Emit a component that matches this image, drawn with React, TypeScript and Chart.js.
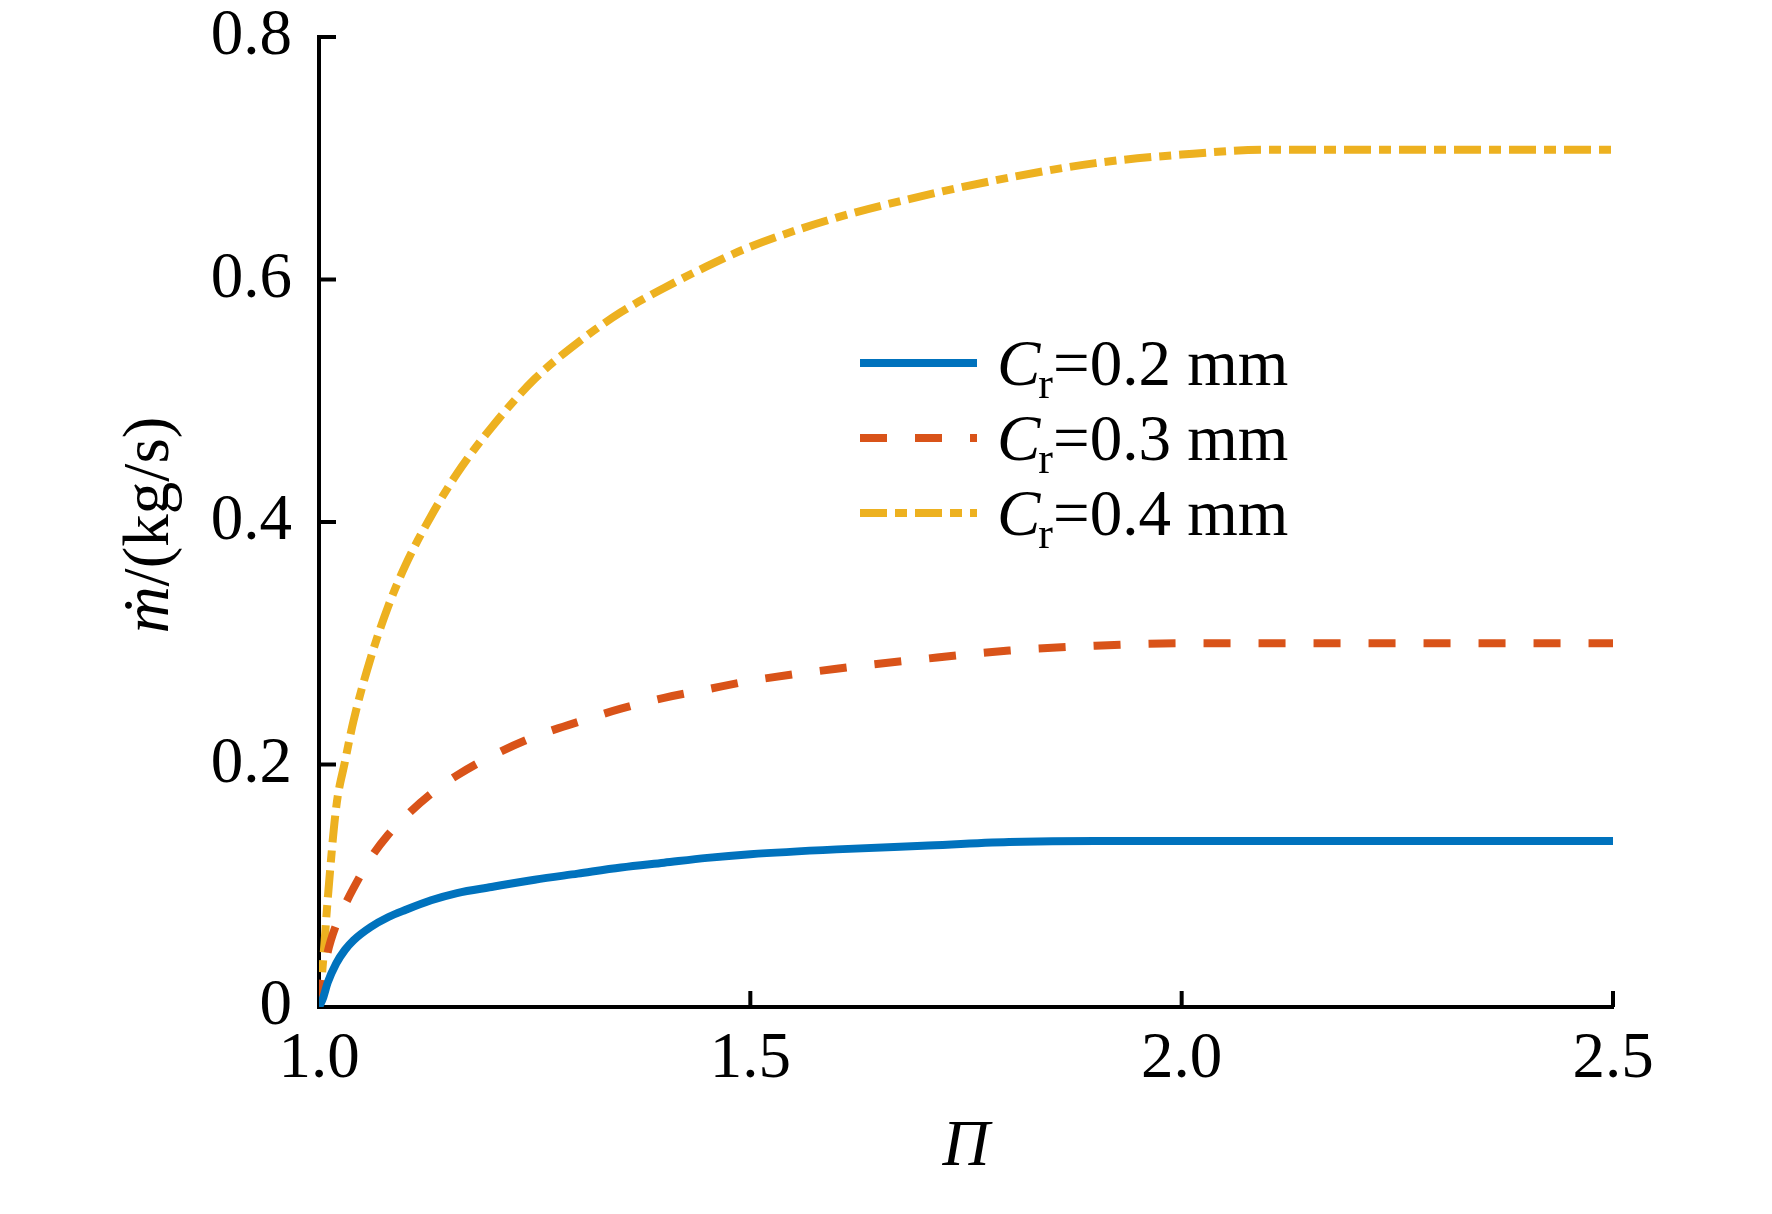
import { useEffect, useRef } from 'react';
import Chart from 'chart.js/auto';

// pressure ratio Π (x) and mass flow ṁ in kg/s for each radial clearance
const piValues = [1.0, 1.005, 1.01, 1.02, 1.03, 1.04, 1.06, 1.08, 1.1, 1.13, 1.16, 1.2, 1.25, 1.3, 1.35, 1.4, 1.45, 1.5, 1.6, 1.7, 1.8, 1.9, 2.0, 2.1, 2.2, 2.3, 2.4, 2.5];
const flowCr02 = [0, 0.008, 0.02, 0.036, 0.047, 0.055, 0.066, 0.074, 0.08, 0.088, 0.094, 0.099, 0.105, 0.11, 0.115, 0.119, 0.123, 0.126, 0.13, 0.133, 0.136, 0.137, 0.137, 0.137, 0.137, 0.137, 0.137, 0.137];
const flowCr03 = [0, 0.025, 0.045, 0.068, 0.084, 0.098, 0.123, 0.142, 0.157, 0.176, 0.191, 0.207, 0.223, 0.235, 0.246, 0.255, 0.262, 0.269, 0.279, 0.287, 0.294, 0.298, 0.3, 0.3, 0.3, 0.3, 0.3, 0.3];
const flowCr04 = [0, 0.04, 0.088, 0.165, 0.202, 0.236, 0.288, 0.33, 0.364, 0.405, 0.44, 0.478, 0.518, 0.548, 0.573, 0.593, 0.611, 0.627, 0.651, 0.669, 0.684, 0.696, 0.703, 0.707, 0.707, 0.707, 0.707, 0.707];

const clearanceLabels = ['=0.2 mm', '=0.3 mm', '=0.4 mm'];
const xTickLabels = ['1.0', '1.5', '2.0', '2.5'];
const yTickLabels = ['0', '0.2', '0.4', '0.6', '0.8'];

const FONT = '"Liberation Serif", "Times New Roman", serif';
const SIZE = 65;

const COLORS = ['#0072BD', '#D95319', '#EDB120'];
const DASHES: number[][] = [[], [27, 28], [27, 8, 12, 8]];
const WIDTHS = [8, 8, 8];

const decorations = {
    id: 'decorations',
    afterDraw(chart: any) {
        const { ctx, chartArea, scales } = chart;
        ctx.save();

        // inward tick marks
        ctx.strokeStyle = '#000';
        ctx.lineWidth = 4;
        ctx.setLineDash([]);
        scales.x.ticks.forEach((t: any) => {
            if (t.value === scales.x.min) return;
            const px = scales.x.getPixelForValue(t.value);
            ctx.beginPath();
            ctx.moveTo(px, chartArea.bottom);
            ctx.lineTo(px, chartArea.bottom - 16);
            ctx.stroke();
        });
        scales.y.ticks.forEach((t: any) => {
            if (t.value === scales.y.min) return;
            const py = scales.y.getPixelForValue(t.value);
            ctx.beginPath();
            ctx.moveTo(chartArea.left, py);
            ctx.lineTo(chartArea.left + 17, py);
            ctx.stroke();
        });

        // y axis title: italic ṁ followed by upright unit
        ctx.fillStyle = '#000';
        ctx.translate(168, (chartArea.top + chartArea.bottom) / 2 + 3);
        ctx.rotate(-Math.PI / 2);
        ctx.textBaseline = 'alphabetic';
        ctx.textAlign = 'left';
        ctx.font = `italic ${SIZE}px ${FONT}`;
        const mW = ctx.measureText('ṁ').width;
        ctx.font = `${SIZE}px ${FONT}`;
        const uW = ctx.measureText('/(kg/s)').width;
        const tx = -(mW + uW) / 2;
        ctx.font = `italic ${SIZE}px ${FONT}`;
        ctx.fillText('ṁ', tx, 0);
        ctx.font = `${SIZE}px ${FONT}`;
        ctx.fillText('/(kg/s)', tx + mW, 0);
        ctx.restore();

        // legend
        ctx.save();
        const rows = [363, 438, 513];
        chart.data.datasets.forEach((ds: any, i: number) => {
            const y = rows[i];
            ctx.strokeStyle = ds.borderColor;
            ctx.lineWidth = 8;
            ctx.lineCap = 'butt';
            ctx.setLineDash(DASHES[i]);
            ctx.beginPath();
            ctx.moveTo(860, y);
            ctx.lineTo(977, y);
            ctx.stroke();

            ctx.fillStyle = '#000';
            ctx.textBaseline = 'alphabetic';
            ctx.textAlign = 'left';
            let x = 997;
            const base = y + 22;
            ctx.font = `italic ${SIZE}px ${FONT}`;
            ctx.fillText('C', x, base);
            x += ctx.measureText('C').width - 2;
            ctx.font = `44px ${FONT}`;
            ctx.fillText('r', x, base + 13);
            x += ctx.measureText('r').width;
            ctx.font = `${SIZE}px ${FONT}`;
            ctx.fillText(clearanceLabels[i], x, base);
        });
        ctx.restore();
    }
};

const App = () => {
    const canvas = useRef<HTMLCanvasElement>(null);

    useEffect(() => {
        Chart.defaults.color = '#000000';
        Chart.defaults.font.family = FONT;
        Chart.defaults.font.size = SIZE;

        const series = [flowCr02, flowCr03, flowCr04];

        const chart = new Chart(
            // @ts-expect-error next
            canvas.current,
            {
                type: 'line',
                data: {
                    datasets: series.map((values, i) => ({
                        label: 'Cr' + clearanceLabels[i],
                        data: piValues.map((x, j) => ({ x, y: values[j] })),
                        borderColor: COLORS[i],
                        backgroundColor: COLORS[i],
                        borderWidth: WIDTHS[i],
                        borderDash: DASHES[i],
                        borderCapStyle: 'butt',
                        pointRadius: 0,
                        cubicInterpolationMode: 'monotone',
                        fill: false
                    }))
                },
                options: {
                    responsive: false,
                    animation: false,
                    devicePixelRatio: 1,
                    layout: {
                        padding: { top: 37, right: 159, left: 0, bottom: 0 }
                    },
                    plugins: {
                        legend: { display: false },
                        tooltip: { enabled: false }
                    },
                    scales: {
                        x: {
                            type: 'linear',
                            min: 1,
                            max: 2.5,
                            grid: { display: false, drawTicks: false },
                            border: { display: true, color: '#000', width: 4 },
                            ticks: {
                                stepSize: 0.5,
                                padding: 14,
                                font: { family: FONT, size: SIZE },
                                callback: (_v: any, index: number) => xTickLabels[index]
                            },
                            title: {
                                display: true,
                                text: 'Π',
                                font: { family: FONT, size: SIZE, style: 'italic' },
                                padding: { top: 0, bottom: 27 }
                            },
                            afterFit: (scale: any) => {
                                scale.height = 207;
                                scale.paddingLeft = 0;
                                scale.paddingRight = 0;
                            }
                        },
                        y: {
                            min: 0,
                            max: 0.8,
                            grid: { display: false, drawTicks: false },
                            border: { display: true, color: '#000', width: 4 },
                            ticks: {
                                stepSize: 0.2,
                                padding: 27,
                                font: { family: FONT, size: SIZE },
                                callback: (_v: any, index: number) => yTickLabels[index]
                            },
                            afterFit: (scale: any) => {
                                scale.width = 319;
                                scale.paddingTop = 0;
                                scale.paddingBottom = 0;
                            }
                        }
                    }
                },
                plugins: [decorations]
            }
        );

        return () => {
            chart.destroy();
        };
    }, []);

    return (
        <div style={{ position: 'absolute', left: 0, top: 0, width: 1772, height: 1214, overflow: 'hidden', background: '#fff' }}>
            <canvas
                ref={canvas}
                width={1772}
                height={1214}
                style={{ display: 'block', width: 1772, height: 1214 }}
                aria-label="mass flow versus pressure ratio"
                role="img"
            ></canvas>
        </div>
    );
};

export default App;
